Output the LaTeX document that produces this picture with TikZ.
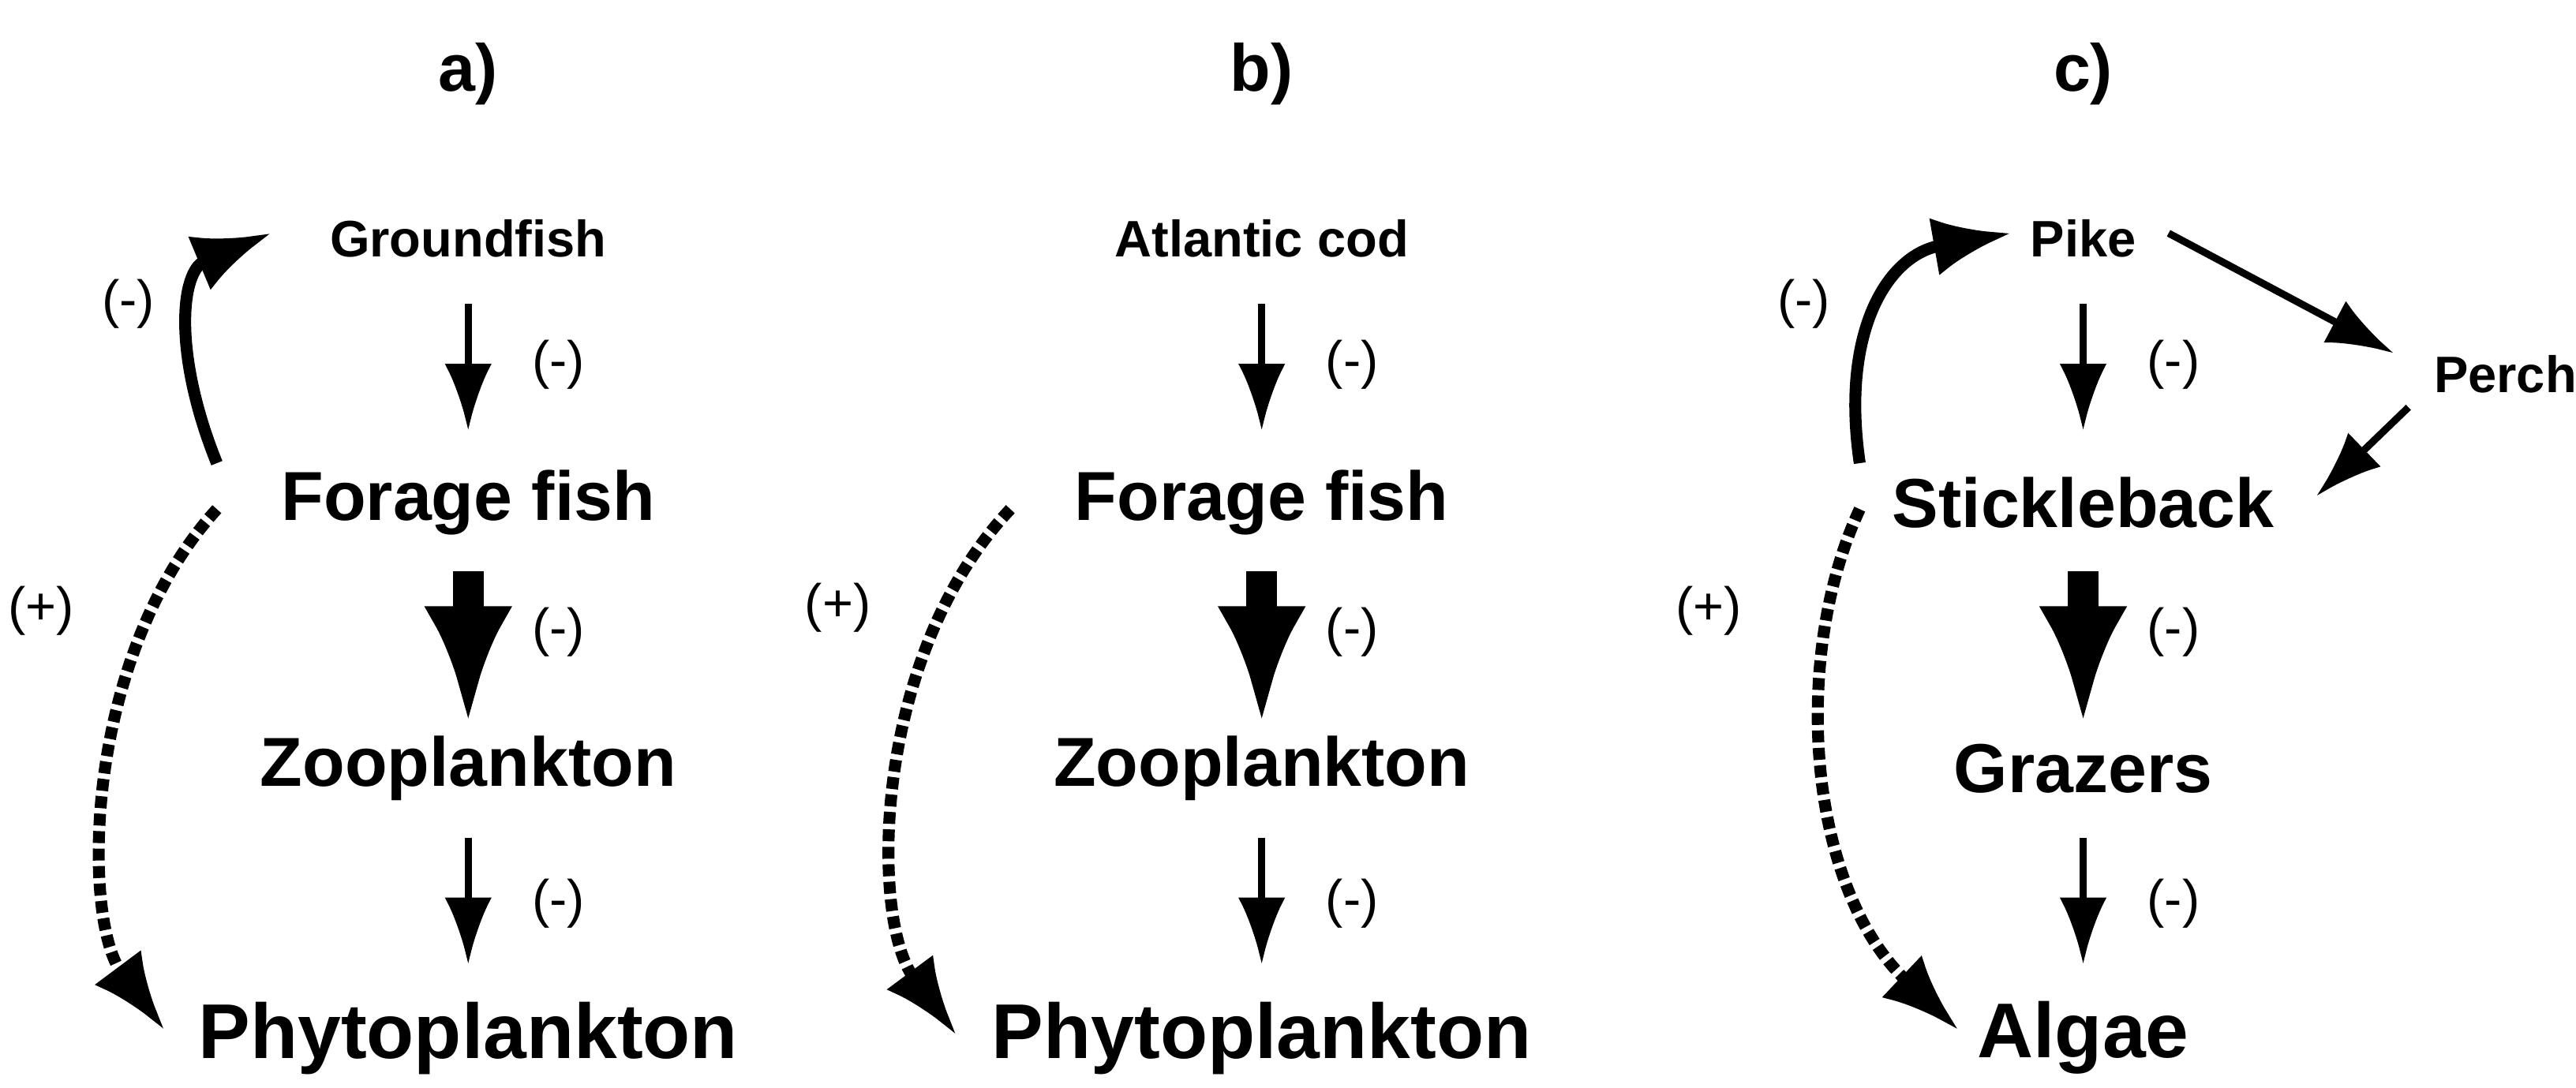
\documentclass[tikz,border=0pt]{standalone}
\usepackage{fontspec}
\setmainfont{Liberation Sans}
\usetikzlibrary{arrows.meta}
\begin{document}
\begin{tikzpicture}[x=0.02082cm,y=-0.02082cm,
 big/.style={font=\fontsize{25}{28}\selectfont\bfseries},
 huge/.style={font=\fontsize{28}{31}\selectfont\bfseries},
 small/.style={font=\fontsize{18.5}{21}\selectfont\bfseries},
 ttl/.style={font=\fontsize{24}{27}\selectfont\bfseries},
 sgn/.style={font=\fontsize{19}{22}\selectfont},
 thin/.style={-{Latex[length=24pt,width=17pt]},line width=2.6pt},
 thick/.style={-{Latex[length=42pt,width=32pt]},line width=11pt},
 solidc/.style={-{Latex[length=28pt,width=21pt]},line width=4.3pt},
 dotc/.style={-{Latex[length=28pt,width=21pt]},line width=4.3pt,dotted}]
\useasboundingbox (0,0) rectangle (1568,662);
\foreach \p/\x/\top/\bot/\mid/\zoo/\ti in {a/285/Groundfish/Phytoplankton/Forage fish/Zooplankton/a),b/768/Atlantic cod/Phytoplankton/Forage fish/Zooplankton/b)}{
 \node[ttl] (\p t) at (\x,45) {\ti};
 \node[small] (\p 1) at (\x,145) {\top};
 \node[big] (\p 2) at (\x,306) {\mid};
 \node[big] (\p 3) at (\x,468) {\zoo};
 \node[huge] (\p 4) at (\x,632) {\bot};
 \coordinate (\p a1) at (\x,185); \coordinate (\p a2) at (\x,262);
 \coordinate (\p b1) at (\x,348); \coordinate (\p b2) at (\x,440);
 \coordinate (\p c1) at (\x,510); \coordinate (\p c2) at (\x,587);
 \draw[thin] (\p a1) -- (\p a2);
 \draw[thick] (\p b1) -- (\p b2);
 \draw[thin] (\p c1) -- (\p c2);
 \node[sgn] (\p s1) at (\x+55,222) {(-)};
 \node[sgn] (\p s2) at (\x+55,385) {(-)};
 \node[sgn] (\p s3) at (\x+55,550) {(-)};
}
% a curves
\coordinate (ac0) at (132,282); \coordinate (ac1) at (165,142);
\draw[solidc] (ac0) .. controls (105,215) and (110,165) .. (ac1);
\node[sgn] (am) at (78,185) {(-)};
\coordinate (ad0) at (132,310); \coordinate (ad1) at (100,627);
\draw[dotc] (ad0) .. controls (50,400) and (50,560) .. (ad1);
\node[sgn] (ap) at (25,372) {(+)};
% b curve
\coordinate (bd0) at (615,310); \coordinate (bd1) at (582,630);
\draw[dotc] (bd0) .. controls (530,400) and (530,560) .. (bd1);
\node[sgn] (bp) at (510,370) {(+)};
% c
\node[ttl] (ct) at (1268,45) {c)};
\node[small] (c1) at (1268,145) {Pike};
\node[small] (c5) at (1525,228) {Perch};
\node[big] (c2) at (1268,306) {Stickleback};
\node[big] (c3) at (1268,468) {Grazers};
\node[huge] (c4) at (1268,632) {Algae};
\coordinate (ca1) at (1268,185); \coordinate (ca2) at (1268,262);
\coordinate (cb1) at (1268,348); \coordinate (cb2) at (1268,440);
\coordinate (cc1) at (1268,510); \coordinate (cc2) at (1268,587);
\draw[thin] (ca1) -- (ca2);
\draw[thick] (cb1) -- (cb2);
\draw[thin] (cc1) -- (cc2);
\node[sgn] (cs1) at (1323,222) {(-)};
\node[sgn] (cs2) at (1323,385) {(-)};
\node[sgn] (cs3) at (1323,550) {(-)};
\coordinate (cp0) at (1320,142); \coordinate (cp1) at (1457,215);
\draw[thin] (cp0) -- (cp1);
\coordinate (cq0) at (1466,248); \coordinate (cq1) at (1410,302);
\draw[thin] (cq0) -- (cq1);
\coordinate (cc0) at (1132,282); \coordinate (cce) at (1224,142);
\draw[solidc] (cc0) .. controls (1120,200) and (1150,155) .. (cce);
\node[sgn] (cm) at (1098,185) {(-)};
\coordinate (cd0) at (1132,310); \coordinate (cd1) at (1192,627);
\draw[dotc] (cd0) .. controls (1090,400) and (1100,540) .. (cd1);
\node[sgn] (cp) at (1040,372) {(+)};
\end{tikzpicture}
\end{document}
